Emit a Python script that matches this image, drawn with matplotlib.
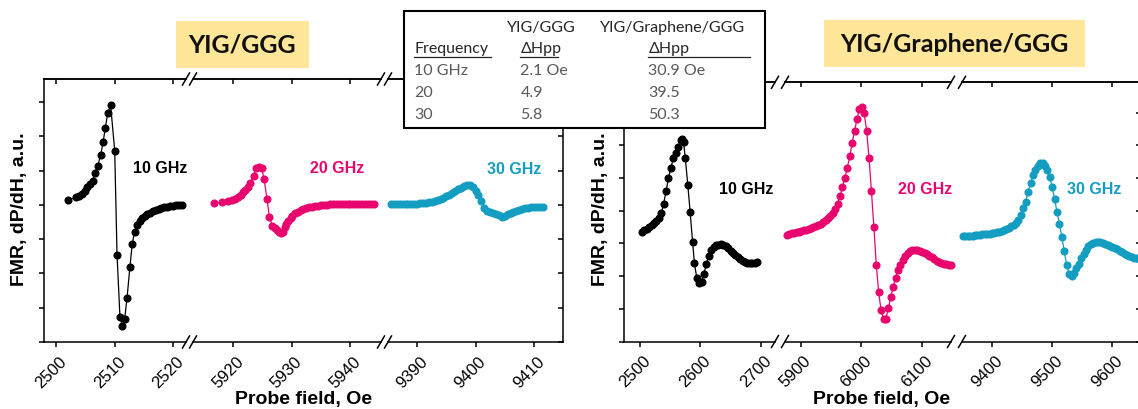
import matplotlib
matplotlib.use("Agg")
import matplotlib.pyplot as plt
from matplotlib.lines import Line2D
from matplotlib.patches import Rectangle
from matplotlib.transforms import ScaledTranslation

plt.rcParams['font.family'] = ['Liberation Sans', 'DejaVu Sans']

W, H = 1138, 410

BLACK = '#000000'
PINK = '#E8066E'
CYAN = '#129DC1'

# ---- YIG/GGG (left panel), field in Oe, signal in arbitrary units ----
x10_l = [2502.0, 2503.3, 2503.9, 2504.4, 2504.9, 2505.3, 2505.8, 2506.2, 2506.6, 2507.1,
         2507.6, 2508.0, 2508.4, 2508.8, 2509.3, 2510.0, 2510.4, 2510.9, 2511.3, 2511.7,
         2512.1, 2512.6, 2513.0, 2513.4, 2513.9, 2514.3, 2514.7, 2515.1, 2515.6, 2516.0,
         2516.5, 2517.0, 2517.5, 2518.0, 2518.5, 2519.0, 2519.5, 2520.0, 2520.5, 2521.0,
         2521.5]
y10_l = [4.14, 4.22, 4.27, 4.32, 4.40, 4.51, 4.60, 4.70, 4.92, 5.14,
         5.45, 5.82, 6.24, 6.67, 6.91, 5.58, 2.54, 0.72, 0.48, 0.67,
         1.27, 2.18, 2.86, 3.22, 3.41, 3.54, 3.62, 3.68, 3.73, 3.77,
         3.81, 3.85, 3.88, 3.91, 3.93, 3.95, 3.97, 3.98, 3.99, 4.00,
         4.00]

x20_l = [5916.8, 5918.1, 5919.1, 5919.8, 5920.3, 5920.8, 5921.3, 5921.7, 5922.1, 5922.5,
         5922.9, 5923.5, 5924.0, 5924.5, 5924.9, 5925.3, 5925.8, 5926.2, 5926.7, 5927.1,
         5927.5, 5927.9, 5928.2, 5928.5, 5928.8, 5929.1, 5929.4, 5929.8, 5930.1, 5930.5,
         5931.0, 5931.5, 5932.0, 5932.5, 5933.0, 5933.5, 5934.0, 5934.5, 5935.0, 5935.5,
         5936.0, 5936.5, 5937.0, 5937.5, 5938.0, 5938.5, 5939.0, 5939.5, 5940.0, 5940.5,
         5941.0, 5941.5, 5942.0, 5942.5, 5943.0, 5943.5, 5944.0]
y20_l = [4.05, 4.07, 4.11, 4.14, 4.18, 4.24, 4.30, 4.37, 4.44, 4.53,
         4.63, 4.85, 5.06, 5.09, 5.06, 4.75, 4.17, 3.66, 3.39, 3.32,
         3.28, 3.22, 3.18, 3.22, 3.34, 3.45, 3.54, 3.62, 3.68, 3.75,
         3.80, 3.84, 3.88, 3.91, 3.93, 3.95, 3.97, 3.98, 3.99, 4.00,
         4.00, 4.01, 4.01, 4.01, 4.01, 4.02, 4.02, 4.02, 4.02, 4.02,
         4.02, 4.02, 4.02, 4.02, 4.02, 4.02, 4.02]

x30_l = [9385.5, 9386.0, 9386.5, 9387.0, 9387.5, 9388.0, 9388.5, 9389.0, 9389.5, 9390.0,
         9390.5, 9391.0, 9391.5, 9392.0, 9392.5, 9393.0, 9393.5, 9394.0, 9394.5, 9395.0,
         9395.5, 9396.0, 9396.5, 9397.0, 9397.5, 9398.0, 9398.5, 9399.0, 9399.5, 9400.0,
         9400.5, 9401.0, 9401.5, 9402.0, 9402.5, 9403.0, 9403.5, 9404.0, 9404.5, 9405.0,
         9405.5, 9406.0, 9406.5, 9407.0, 9407.5, 9408.0, 9408.5, 9409.0, 9409.5, 9410.0,
         9410.5, 9411.0, 9411.5]
y30_l = [4.01, 4.01, 4.01, 4.01, 4.01, 4.01, 4.02, 4.02, 4.02, 4.03,
         4.04, 4.05, 4.06, 4.08, 4.09, 4.12, 4.14, 4.17, 4.21, 4.25,
         4.30, 4.35, 4.40, 4.45, 4.50, 4.55, 4.59, 4.58, 4.52, 4.40,
         4.28, 4.12, 3.92, 3.82, 3.78, 3.75, 3.73, 3.70, 3.66, 3.68,
         3.72, 3.76, 3.80, 3.83, 3.86, 3.88, 3.90, 3.92, 3.93, 3.94,
         3.95, 3.95, 3.95]

# ---- YIG/Graphene/GGG (right panel) ----
x10_r = [2503, 2507, 2511, 2515, 2519, 2523, 2527, 2531, 2535, 2539,
         2543, 2547, 2551, 2555, 2559, 2563, 2567, 2569, 2572, 2575,
         2579, 2583, 2587, 2590, 2594, 2598, 2602, 2606, 2610, 2614,
         2618, 2622, 2626, 2630, 2634, 2638, 2642, 2646, 2650, 2654,
         2658, 2662, 2666, 2670, 2674, 2678, 2682, 2686, 2690, 2694]
y10_r = [3.36, 3.40, 3.44, 3.50, 3.55, 3.62, 3.70, 3.78, 3.92, 4.22,
         4.60, 5.00, 5.32, 5.60, 5.78, 5.95, 6.16, 6.20, 6.10, 5.60,
         4.80, 3.95, 3.05, 2.40, 1.94, 1.78, 1.81, 2.08, 2.38, 2.62,
         2.80, 2.89, 2.94, 2.96, 2.97, 2.95, 2.91, 2.86, 2.78, 2.72,
         2.65, 2.58, 2.52, 2.46, 2.43, 2.40, 2.39, 2.39, 2.41, 2.44]

x20_r = [5877, 5881, 5885, 5889, 5893, 5897, 5901, 5905, 5909, 5913,
         5917, 5921, 5925, 5929, 5933, 5937, 5941, 5945, 5949, 5953,
         5957, 5961, 5965, 5969, 5973, 5977, 5981, 5985, 5989, 5993,
         5997, 6001, 6005, 6009, 6013, 6017, 6021, 6025, 6029, 6033,
         6037, 6041, 6045, 6049, 6053, 6057, 6061, 6065, 6069, 6073,
         6077, 6081, 6085, 6089, 6093, 6097, 6101, 6105, 6109, 6113,
         6117, 6121, 6125, 6129, 6133, 6137, 6141, 6145, 6148]
y20_r = [3.27, 3.29, 3.31, 3.32, 3.34, 3.36, 3.38, 3.40, 3.42, 3.45,
         3.47, 3.50, 3.54, 3.57, 3.61, 3.66, 3.71, 3.77, 3.85, 3.93,
         4.05, 4.22, 4.46, 4.72, 5.00, 5.32, 5.66, 6.06, 6.45, 6.80,
         7.12, 7.18, 7.00, 6.45, 5.62, 4.60, 3.50, 2.35, 1.50, 0.95,
         0.69, 0.69, 1.02, 1.35, 1.68, 1.95, 2.18, 2.35, 2.48, 2.62,
         2.72, 2.78, 2.81, 2.81, 2.80, 2.78, 2.75, 2.71, 2.67, 2.62,
         2.57, 2.52, 2.47, 2.44, 2.41, 2.38, 2.36, 2.35, 2.34]

x30_r = [9352, 9356, 9360, 9364, 9368, 9372, 9376, 9380, 9384, 9388,
         9392, 9396, 9400, 9404, 9408, 9412, 9416, 9420, 9424, 9428,
         9432, 9436, 9440, 9444, 9448, 9452, 9456, 9460, 9464, 9468,
         9472, 9476, 9480, 9484, 9488, 9492, 9496, 9500, 9504, 9508,
         9512, 9516, 9520, 9524, 9528, 9532, 9536, 9540, 9544, 9548,
         9552, 9556, 9560, 9564, 9568, 9572, 9576, 9580, 9584, 9588,
         9592, 9596, 9600, 9604, 9608, 9612, 9616, 9620, 9624, 9628,
         9632, 9636, 9640, 9644, 9648]
y30_r = [3.22, 3.22, 3.23, 3.23, 3.24, 3.25, 3.26, 3.27, 3.28, 3.29,
         3.29, 3.30, 3.32, 3.33, 3.34, 3.36, 3.38, 3.41, 3.44, 3.48,
         3.52, 3.57, 3.62, 3.72, 3.86, 4.08, 4.28, 4.58, 4.84, 5.08,
         5.26, 5.38, 5.46, 5.45, 5.38, 5.24, 5.03, 4.72, 4.35, 3.96,
         3.59, 3.19, 2.76, 2.33, 2.08, 2.01, 2.10, 2.24, 2.38, 2.54,
         2.68, 2.80, 2.91, 2.97, 3.02, 3.05, 3.05, 3.04, 3.02, 2.99,
         2.96, 2.93, 2.90, 2.86, 2.82, 2.77, 2.73, 2.69, 2.65, 2.62,
         2.59, 2.56, 2.54, 2.52, 2.50]

freq_labels = ['10 GHz', '20 GHz', '30 GHz']
colors = [BLACK, PINK, CYAN]

ticks_l = [[2500, 2510, 2520], [5920, 5930, 5940], [9390, 9400, 9410]]
ticks_r = [[2500, 2600, 2700], [5900, 6000, 6100], [9400, 9500, 9600]]

table_head1 = ['', 'YIG/GGG', 'YIG/Graphene/GGG']
table_head2 = ['Frequency', 'ΔHpp', 'ΔHpp']
table_rows = [['10 GHz', '2.1 Oe', '30.9 Oe'],
              ['20', '4.9', '39.5'],
              ['30', '5.8', '50.3']]


def fig_box(x0, x1, y0, y1):
    return [x0 / W, 1 - y1 / H, (x1 - x0) / W, (y1 - y0) / H]


def fx(x):
    return x / W


def fy(y):
    return 1 - y / H


fig = plt.figure(figsize=(W / 100, H / 100), dpi=100)

LW = 1.1
TL = 3.8  # tick length, points
shift = ScaledTranslation(-5 / 100, 0, fig.dpi_scale_trans)


def draw_panel(top, bottom, ymax, segs, ticks, data):
    for i, (x0, x1, xlim) in enumerate(segs):
        ax = fig.add_axes(fig_box(x0, x1, top, bottom))
        ax.set_xlim(*xlim)
        ax.set_ylim(0, ymax)
        ax.patch.set_alpha(0)
        for s in ax.spines.values():
            s.set_linewidth(LW)
        if i != 0:
            ax.spines['left'].set_visible(False)
        if i != 2:
            ax.spines['right'].set_visible(False)
        ax.set_xticks(ticks[i])
        ax.set_xticklabels([str(t) for t in ticks[i]], rotation=45, ha='center',
                           va='center', rotation_mode='anchor', fontsize=12)
        ax.tick_params(axis='x', direction='out', length=TL, width=LW, pad=17.5)
        for lab in ax.get_xticklabels():
            lab.set_transform(lab.get_transform() + shift)
        ax.set_yticks(range(0, 8))
        ax.set_yticklabels([])
        if i == 0:
            ax.tick_params(axis='y', left=True, right=False, direction='out',
                           length=TL, width=LW)
        elif i == 2:
            ax.tick_params(axis='y', left=False, right=True, direction='in',
                           length=TL, width=LW)
        else:
            ax.tick_params(axis='y', left=False, right=False)
        sec = ax.secondary_xaxis('top')
        sec.set_xticks(ticks[i])
        sec.tick_params(direction='in', length=TL, width=LW, labeltop=False)
        sec.spines['top'].set_linewidth(LW)
        xs, ys = data[i]
        ax.plot(xs, ys, '-o', color=colors[i], lw=0.9, ms=4.8, clip_on=False)
    # axis-break marks
    for k in range(len(segs) - 1):
        for cx in (segs[k][1], segs[k + 1][0]):
            for cy in (top, bottom):
                fig.add_artist(Line2D([fx(cx - 3.5), fx(cx + 3.5)],
                                      [fy(cy + 6), fy(cy - 6)],
                                      color='black', lw=LW, transform=fig.transFigure))


left_segs = [(44, 186, (2497.9, 2522.2)),
             (193, 381, (5913.2, 5945.2)),
             (388, 563, (9385.0, 9415.0))]
right_segs = [(624, 775, (2473.1, 2723.9)),
              (785, 951, (5873.8, 6148.8)),
              (962, 1141, (9350.3, 9647.3))]

draw_panel(80, 343, 7.67, left_segs, ticks_l,
           [(x10_l, y10_l), (x20_l, y20_l), (x30_l, y30_l)])
draw_panel(83.3, 342.5, 7.93, right_segs, ticks_r,
           [(x10_r, y10_r), (x20_r, y20_r), (x30_r, y30_r)])

# frequency labels
for (px, py), lab, c in zip([(160, 169), (337.5, 169), (514.5, 170)], freq_labels, colors):
    fig.text(fx(px), fy(py), lab, color=c, fontsize=11.5, fontweight='bold',
             ha='center', va='center')
for (px, py), lab, c in zip([(746.5, 190), (925.5, 190), (1094.5, 190)], freq_labels, colors):
    fig.text(fx(px), fy(py), lab, color=c, fontsize=11.5, fontweight='bold',
             ha='center', va='center')

# axis labels
for px in (19.5, 601):
    fig.text(fx(px), fy(209), 'FMR, dP/dH, a.u.', rotation=90, fontsize=14,
             fontweight='bold', ha='center', va='center')
for px in (303.5, 882):
    fig.text(fx(px), fy(400), 'Probe field, Oe', fontsize=14, fontweight='bold',
             ha='center', va='center')

# title boxes
for (x0, x1, y0, y1), title in zip([(175.7, 309.3, 21.7, 69), (824, 1085, 21, 68.3)],
                                   ['YIG/GGG', 'YIG/Graphene/GGG']):
    fig.add_artist(Rectangle((fx(x0), fy(y1)), (x1 - x0) / W, (y1 - y0) / H,
                             transform=fig.transFigure, facecolor='#FFE699',
                             edgecolor='none'))
    fig.text(fx((x0 + x1) / 2), fy((y0 + y1) / 2), title, fontsize=18,
             fontweight='bold', family=['Lato', 'DejaVu Sans'],
             ha='center', va='center', color='#111111')

# table box
fig.add_artist(Rectangle((fx(404), fy(129)), (765 - 404) / W, (129 - 11.7) / H,
                         transform=fig.transFigure, facecolor='white',
                         edgecolor='black', lw=1.5, zorder=5))
col_x = [414, 520.5, 648.5]
tfont = dict(family=['Lato', 'DejaVu Sans'], fontsize=11.5, zorder=6)
fig.text(fx(507.3), fy(28.3), table_head1[1], color='#262626', ha='left', va='center', **tfont)
fig.text(fx(600), fy(28.3), table_head1[2], color='#262626', ha='left', va='center', **tfont)
for cx, lab in zip(col_x, table_head2):
    fig.text(fx(cx), fy(49.5), lab, color='#262626', ha='left', va='center', **tfont)
for (u0, u1) in [(414, 491), (520, 558), (648, 750)]:
    fig.add_artist(Line2D([fx(u0), fx(u1)], [fy(57.5), fy(57.5)], color='#262626',
                          lw=0.9, transform=fig.transFigure, zorder=6))
for r, row in enumerate(table_rows):
    for cx, val in zip(col_x, row):
        fig.text(fx(cx), fy(71.5 + 21.6 * r), val, color='#595959', ha='left',
                 va='center', **tfont)

fig.savefig('out.png', dpi=100)
